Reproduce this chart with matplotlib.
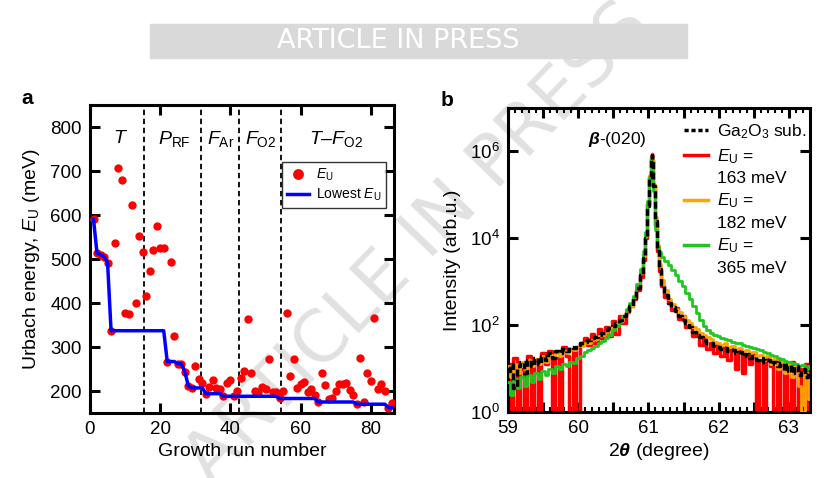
import numpy as np
import matplotlib
matplotlib.use("Agg")
import matplotlib.pyplot as plt
from matplotlib.lines import Line2D
from matplotlib.patches import Rectangle
from matplotlib.ticker import MultipleLocator, FuncFormatter, NullLocator, FixedLocator

plt.rcParams['font.family'] = ['Liberation Sans', 'DejaVu Sans']
plt.rcParams['mathtext.fontset'] = 'custom'
plt.rcParams['mathtext.rm'] = 'Liberation Sans'
plt.rcParams['mathtext.it'] = 'Liberation Sans:italic'
plt.rcParams['mathtext.bf'] = 'Liberation Sans:bold'
plt.rcParams['mathtext.bfit'] = 'Liberation Sans:bold:italic'

# ---- panel a: Urbach energy per growth run ----
runs = list(range(1, 87))
eu = [590, 513, 510, 505, 492, 337, 536, 707, 680, 377,
      375, 623, 400, 553, 515, 417, 472, 520, 575, 525,
      526, 267, 494, 325, 262, 262, 244, 212, 207, 256,
      228, 219, 194, 210, 226, 207, 204, 188, 219, 225,
      188, 201, 229, 246, 364, 241, 200, 197, 208, 204,
      273, 198, 198, 183, 200, 378, 235, 272, 207, 217,
      220, 198, 204, 191, 175, 240, 214, 182, 183, 201,
      216, 216, 219, 202, 190, 170, 276, 174, 240, 223,
      365, 204, 217, 200, 162, 172]
boundaries = [15.5, 31.5, 42.5, 54.5]
region_labels = ['$T$', '$P_\\mathrm{RF}$', '$F_\\mathrm{Ar}$', '$F_\\mathrm{O2}$', '$T$\u2013$F_\\mathrm{O2}$']
region_x = [8.6, 24.1, 37.1, 48.7, 70.1]

# ---- panel b: XRD scans, log10 intensity ----
theta_left = np.round(np.arange(59.0, 60.76, 0.05), 2)
theta_peak = [60.80, 60.85, 60.90, 60.94, 60.97, 61.00, 61.02, 61.04, 61.05,
              61.06, 61.08, 61.10, 61.13, 61.16, 61.20, 61.25, 61.30]
theta_right = np.round(np.arange(61.35, 63.31, 0.05), 2)

sub_left = [0.95, 1.10, 0.55, 1.05, 1.15, 0.90, 1.20, 1.05, 1.25, 1.10,
            1.30, 1.20, 1.35, 1.25, 1.40, 1.35, 1.45, 1.40, 1.50, 1.48,
            1.55, 1.58, 1.62, 1.65, 1.70, 1.72, 1.78, 1.82, 1.88, 1.93,
            1.98, 2.05, 2.12, 2.22, 2.32, 2.45]
sub_peak = [2.62, 2.85, 3.15, 3.55, 4.00, 4.75, 5.40, 5.85, 5.92, 5.80, 5.20,
            4.40, 3.75, 3.30, 2.95, 2.70, 2.52]
sub_right = [2.42, 2.32, 2.22, 2.12, 2.05, 1.95, 1.85, 1.78, 1.72, 1.66,
             1.60, 1.58, 1.52, 1.50, 1.45, 1.48, 1.40, 1.42, 1.35, 1.38,
             1.30, 1.33, 1.25, 1.28, 1.20, 1.25, 1.15, 1.20, 1.10, 1.15,
             1.05, 1.12, 0.95, 1.08, 0.90, 1.05, 0.85, 1.00, 0.80, 0.95]

red_left = [1.10, 0.00, 1.25, 0.00, 1.00, 0.00, 1.30, 0.00, 1.20, 0.00,
            1.35, 1.10, 1.40, 0.00, 1.25, 0.00, 1.50, 1.30, 0.00, 1.45,
            0.00, 1.60, 1.70, 1.55, 1.80, 1.60, 1.90, 1.70, 1.95, 1.75,
            2.10, 1.80, 2.20, 2.05, 2.30, 2.45]
red_peak = [2.60, 2.80, 3.10, 3.50, 4.00, 4.80, 5.40, 5.85, 5.95, 5.80, 5.20,
            4.30, 3.70, 3.25, 2.90, 2.65, 2.50]
red_right = [2.35, 2.40, 2.15, 2.20, 1.95, 2.00, 1.75, 1.85, 1.55, 1.70,
             1.45, 1.60, 1.35, 1.55, 1.30, 1.50, 1.20, 1.45, 1.00, 1.40,
             0.90, 1.30, 1.10, 1.35, 0.00, 1.20, 0.00, 1.25, 1.05, 0.00,
             1.20, 0.00, 1.10, 0.00, 1.15, 0.00, 1.00, 0.00, 1.10, 0.00]

orange_left = [1.05, 0.80, 1.10, 0.90, 1.15, 1.00, 1.20, 1.05, 1.22, 1.10,
               1.28, 1.15, 1.32, 1.25, 1.36, 1.30, 1.40, 1.36, 1.46, 1.42,
               1.52, 1.53, 1.58, 1.60, 1.65, 1.68, 1.74, 1.78, 1.84, 1.89,
               1.95, 2.02, 2.10, 2.20, 2.30, 2.44]
orange_peak = [2.65, 2.90, 3.20, 3.60, 4.05, 4.80, 5.45, 5.88, 5.95, 5.82, 5.25,
               4.50, 3.85, 3.40, 3.05, 2.80, 2.60]
orange_right = [2.48, 2.38, 2.30, 2.20, 2.12, 2.05, 1.95, 1.90, 1.82, 1.78,
                1.72, 1.68, 1.62, 1.60, 1.55, 1.58, 1.50, 1.52, 1.45, 1.48,
                1.40, 1.42, 1.35, 1.38, 1.30, 1.32, 1.20, 1.28, 1.10, 1.22,
                1.00, 1.15, 0.90, 1.10, 0.80, 1.05, 0.60, 0.00, 0.90, 0.30]

green_left = [0.70, 0.40, 0.75, 0.55, 0.80, 0.60, 0.85, 0.70, 0.90, 0.75,
              0.95, 0.85, 1.00, 0.90, 1.05, 1.00, 1.10, 1.05, 1.15, 1.12,
              1.25, 1.30, 1.38, 1.42, 1.48, 1.52, 1.58, 1.63, 1.70, 1.78,
              1.88, 1.98, 2.08, 2.22, 2.38, 2.52]
green_peak = [2.68, 2.95, 3.30, 3.70, 4.15, 4.85, 5.40, 5.85, 5.90, 5.75, 5.10,
              4.20, 3.80, 3.68, 3.58, 3.48, 3.38]
green_right = [3.28, 3.15, 3.02, 2.90, 2.75, 2.60, 2.45, 2.28, 2.12, 1.98,
               1.88, 1.82, 1.78, 1.75, 1.70, 1.68, 1.66, 1.62, 1.60, 1.58,
               1.55, 1.53, 1.50, 1.47, 1.45, 1.42, 1.38, 1.35, 1.32, 1.28,
               1.25, 1.22, 1.18, 1.15, 1.12, 1.10, 1.05, 1.08, 1.00, 1.05]

theta = np.concatenate([theta_left, theta_peak, theta_right])
def intensity(left, peak, right):
    return 10 ** np.concatenate([left, peak, right])

fig = plt.figure(figsize=(8.37, 4.78), dpi=100)

# watermark (behind everything)
fig.text(0.50, 0.49, 'ARTICLE IN PRESS', rotation=46, fontsize=51, color='#e1e1e1',
         ha='center', va='center', family='DejaVu Sans', zorder=-5)
fig.patches.append(Rectangle((150 / 837, 1 - 58 / 478), 537 / 837, 34 / 478,
                             transform=fig.transFigure, color='#d9d9d9', zorder=-4))
fig.text(398 / 837, 1 - 41 / 478, 'ARTICLE IN PRESS', fontsize=19.5, color='white',
         ha='center', va='center', family='DejaVu Sans', zorder=-3)

ax1 = fig.add_axes([90 / 837, 65 / 478, 304 / 837, 308 / 478])
ax2 = fig.add_axes([508 / 837, 66 / 478, 302 / 837, 304 / 478])
for ax in (ax1, ax2):
    ax.patch.set_alpha(0)
    for s in ax.spines.values():
        s.set_linewidth(2.2)

# ---- panel a ----
lowest = np.minimum.accumulate(eu)
ax1.plot(runs, eu, 'o', color='red', ms=6, mew=0, zorder=3, label='$E_\\mathrm{U}$')
ax1.plot(runs, lowest, color='blue', lw=2.5, zorder=4, label='Lowest $E_\\mathrm{U}$')
for b in boundaries:
    ax1.axvline(b, color='black', lw=1.3, dashes=(3, 2), zorder=2)
for lab, x in zip(region_labels, region_x):
    ax1.text(x, 773, lab, fontsize=14, ha='center', va='center')
ax1.set_xlim(0, 86.6)
ax1.set_ylim(150, 850)
ax1.xaxis.set_major_locator(MultipleLocator(20))
ax1.yaxis.set_major_locator(FixedLocator([200, 300, 400, 500, 600, 700, 800]))
ax1.tick_params(direction='in', length=7, width=2.2, top=True, right=True,
                labelsize=13.5, pad=6)
ax1.set_xlabel('Growth run number', fontsize=14, labelpad=3)
ax1.set_ylabel('Urbach energy, $E_\\mathrm{U}$ (meV)', fontsize=14, labelpad=6)
leg1 = ax1.legend(loc='upper right', bbox_to_anchor=(0.975, 0.815), borderaxespad=0,
                  fontsize=10, frameon=True, fancybox=False, edgecolor='black',
                  handlelength=1.6, handletextpad=0.5, borderpad=0.35, labelspacing=0.25,
                  markerscale=1.3)
leg1.get_frame().set_linewidth(1.0)

# ---- panel b ----
ax2.plot(theta, intensity(red_left, red_peak, red_right), color='#ff0000', lw=2.5,
         drawstyle='steps-mid', zorder=2)
ax2.plot(theta, intensity(orange_left, orange_peak, orange_right), color='#ffa500', lw=2.0,
         drawstyle='steps-mid', zorder=3)
ax2.plot(theta, intensity(green_left, green_peak, green_right), color='#1ec81e', lw=2.0,
         drawstyle='steps-mid', zorder=4)
ax2.plot(theta, intensity(sub_left, sub_peak, sub_right), color='black', lw=2.5,
         ls=(0, (2, 1)), drawstyle='steps-mid', zorder=5)
ax2.set_yscale('log')
ax2.set_xlim(59, 63.3)
ax2.set_ylim(1, 1e7)
ax2.yaxis.set_major_locator(FixedLocator([1, 1e2, 1e4, 1e6]))
ax2.yaxis.set_minor_locator(NullLocator())
ax2.xaxis.set_major_locator(MultipleLocator(0.5))
ax2.xaxis.set_minor_locator(MultipleLocator(0.1))
ax2.xaxis.set_major_formatter(FuncFormatter(
    lambda v, p: f'{v:.0f}' if abs(v - round(v)) < 1e-6 else ''))
ax2.tick_params(which='major', direction='in', length=7, width=2.2, top=True, right=True,
                labelsize=13.5, pad=6)
ax2.tick_params(which='minor', direction='in', length=3.5, width=1.5, top=True)
ax2.set_xlabel('2$\\mathbfit{\\theta}$ (degree)', fontsize=14, labelpad=3)
ax2.set_ylabel('Intensity (arb.u.)', fontsize=14, labelpad=6)
ax2.text(60.97, 10 ** 6.05, '$\\mathbfit{\\beta}$-(020)', fontsize=12.5, ha='right', va='bottom')

blank = Line2D([], [], color='none')
handles = [Line2D([], [], color='black', lw=2.5, ls=(0, (1.2, 0.8))),
           Line2D([], [], color='#ff0000', lw=2.5), blank,
           Line2D([], [], color='#ffa500', lw=2.5), blank,
           Line2D([], [], color='#1ec81e', lw=2.5), blank]
labels = ['Ga$_2$O$_3$ sub.', '$E_\\mathrm{U}$ =', '163 meV', '$E_\\mathrm{U}$ =', '182 meV',
          '$E_\\mathrm{U}$ =', '365 meV']
ax2.legend(handles, labels, loc='upper right', bbox_to_anchor=(1.01, 0.975), borderaxespad=0,
           frameon=False, fontsize=12.5, handlelength=1.4, handletextpad=0.5,
           labelspacing=0.32)

fig.text(27 / 837, 1 - 98 / 478, 'a', fontsize=15, weight='bold', ha='center', va='center')
fig.text(447 / 837, 1 - 100 / 478, 'b', fontsize=15, weight='bold', ha='center', va='center')

fig.savefig('out.png', dpi=100)
